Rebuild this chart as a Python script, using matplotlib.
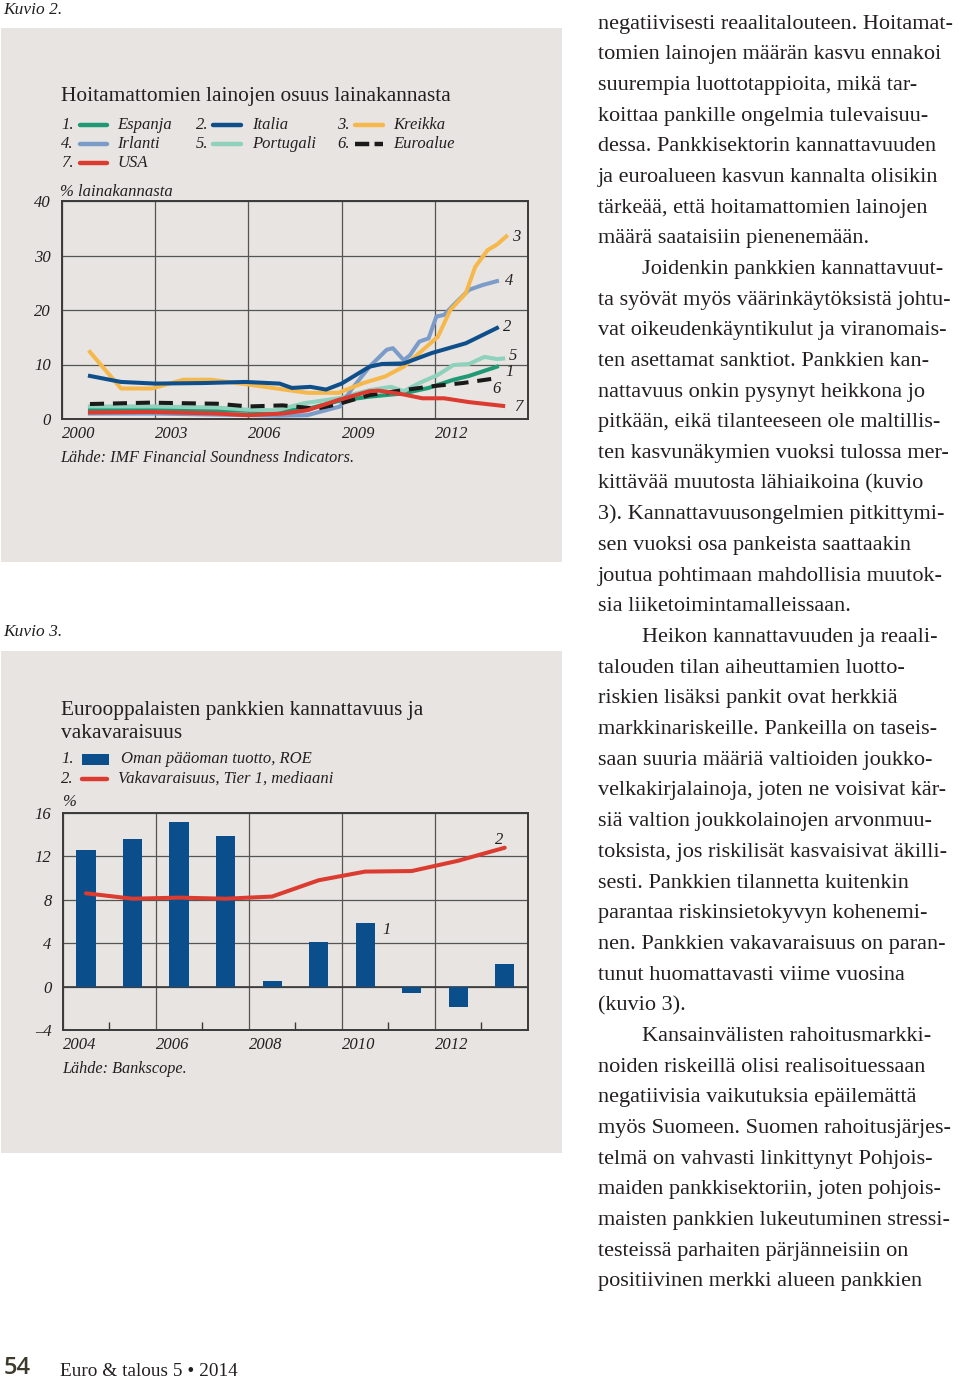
import matplotlib
matplotlib.use('Agg')
import matplotlib.pyplot as plt
from matplotlib.lines import Line2D
from matplotlib.patches import Rectangle

# ---------------- data: chart 1 (non-performing loans, % of loan stock) ----------------
spain_x = [2000.9, 2003.0, 2005.0, 2007.0, 2008.0, 2008.9, 2009.9, 2011.0, 2011.8, 2012.6, 2013.1, 2014.0]
spain_y = [1.8, 1.9, 1.6, 1.4, 2.0, 3.3, 4.1, 4.7, 5.7, 7.2, 7.9, 9.6]

italy_x = [2000.9, 2001.9, 2003.0, 2004.6, 2005.9, 2007.0, 2007.4, 2008.0, 2008.5, 2009.0, 2009.9,
           2010.3, 2011.0, 2011.9, 2013.0, 2014.0]
italy_y = [7.9, 6.8, 6.5, 6.6, 6.8, 6.5, 5.7, 5.9, 5.4, 6.5, 9.6, 10.1, 10.2, 12.1, 13.9, 16.7]

greece_x = [2000.9, 2001.9, 2002.9, 2003.9, 2004.8, 2005.9, 2006.9, 2007.9, 2008.9, 2009.7, 2010.4,
            2011.0, 2011.5, 2012.1, 2012.5, 2013.0, 2013.3, 2013.7, 2014.0, 2014.3]
greece_y = [12.3, 5.6, 5.6, 7.2, 7.2, 6.4, 5.6, 4.8, 4.8, 6.6, 7.8, 9.6, 12.1, 15.1, 20.0, 23.1,
            27.9, 31.0, 32.0, 33.5]

ireland_x = [2000.9, 2003.0, 2005.0, 2007.0, 2007.9, 2008.95, 2009.3, 2009.9, 2010.45, 2010.65, 2011.0,
             2011.2, 2011.5, 2011.8, 2012.05, 2012.3, 2012.6, 2013.1, 2013.55, 2014.0]
ireland_y = [1.0, 1.0, 0.8, 0.6, 0.7, 2.3, 5.3, 9.6, 12.7, 13.0, 10.8, 11.7, 14.2, 14.8, 18.8, 19.1,
             20.9, 23.7, 24.6, 25.3]

portugal_x = [2000.9, 2003.0, 2005.0, 2006.0, 2006.9, 2007.8, 2008.9, 2009.9, 2010.6, 2011.0, 2011.5,
              2012.1, 2012.6, 2013.1, 2013.6, 2014.0, 2014.2]
portugal_y = [2.3, 2.3, 2.1, 1.7, 1.6, 2.9, 3.8, 5.3, 5.9, 5.1, 6.6, 8.1, 9.9, 10.1, 11.4, 11.0, 11.1]

euro_x = [2000.9, 2002.8, 2005.0, 2006.0, 2007.1, 2008.2, 2008.9, 2009.9, 2011.0, 2011.9, 2012.9, 2014.0]
euro_y = [2.75, 3.0, 2.8, 2.3, 2.5, 1.9, 2.75, 4.4, 5.3, 6.0, 6.6, 7.5]

usa_x = [2000.9, 2002.8, 2005.0, 2006.0, 2007.1, 2007.9, 2008.9, 2009.9, 2010.2, 2011.0, 2011.6,
         2012.3, 2013.1, 2014.2]
usa_y = [1.2, 1.3, 1.0, 0.7, 1.0, 1.6, 3.5, 5.1, 5.2, 4.5, 3.8, 3.8, 3.1, 2.4]

c1_xticks = [2000, 2003, 2006, 2009, 2012, 2015]
c1_xlabels = ['2000', '2003', '2006', '2009', '2012', '']
c1_yticks = [0, 10, 20, 30, 40]
c1_ylabels = ['0', '10', '20', '30', '40']

# ---------------- data: chart 2 (European banks) ----------------
c2_years = [2004, 2005, 2006, 2007, 2008, 2009, 2010, 2011, 2012, 2013]
roe = [12.6, 13.6, 15.2, 13.9, 0.55, 4.15, 5.9, -0.6, -1.9, 2.1]
tier1 = [8.6, 8.1, 8.2, 8.1, 8.3, 9.8, 10.6, 10.65, 11.6, 12.8]
c2_xticks = [2004, 2006, 2008, 2010, 2012, 2014]
c2_xlabels = ['2004', '2006', '2008', '2010', '2012', '']
c2_yticks = [-4, 0, 4, 8, 12, 16]
c2_ylabels = ['\u20134', '0', '4', '8', '12', '16']

# ---------------- body text ----------------
body_lines = [
    (0, "negatiivisesti reaalitalouteen. Hoitamat-"),
    (0, "tomien lainojen määrän kasvu ennakoi"),
    (0, "suurempia luottotappioita, mikä tar-"),
    (0, "koittaa pankille ongelmia tulevaisuu-"),
    (0, "dessa. Pankkisektorin kannattavuuden"),
    (0, "ja euroalueen kasvun kannalta olisikin"),
    (0, "tärkeää, että hoitamattomien lainojen"),
    (0, "määrä saataisiin pienenemään."),
    (1, "Joidenkin pankkien kannattavuut-"),
    (0, "ta syövät myös väärinkäytöksistä johtu-"),
    (0, "vat oikeudenkäyntikulut ja viranomais-"),
    (0, "ten asettamat sanktiot. Pankkien kan-"),
    (0, "nattavuus onkin pysynyt heikkona jo"),
    (0, "pitkään, eikä tilanteeseen ole maltillis-"),
    (0, "ten kasvunäkymien vuoksi tulossa mer-"),
    (0, "kittävää muutosta lähiaikoina (kuvio"),
    (0, "3). Kannattavuusongelmien pitkittymi-"),
    (0, "sen vuoksi osa pankeista saattaakin"),
    (0, "joutua pohtimaan mahdollisia muutok-"),
    (0, "sia liiketoimintamalleissaan."),
    (1, "Heikon kannattavuuden ja reaali-"),
    (0, "talouden tilan aiheuttamien luotto-"),
    (0, "riskien lisäksi pankit ovat herkkiä"),
    (0, "markkinariskeille. Pankeilla on taseis-"),
    (0, "saan suuria määriä valtioiden joukko-"),
    (0, "velkakirjalainoja, joten ne voisivat kär-"),
    (0, "siä valtion joukkolainojen arvonmuu-"),
    (0, "toksista, jos riskilisät kasvaisivat äkilli-"),
    (0, "sesti. Pankkien tilannetta kuitenkin"),
    (0, "parantaa riskinsietokyvyn kohenemi-"),
    (0, "nen. Pankkien vakavaraisuus on paran-"),
    (0, "tunut huomattavasti viime vuosina"),
    (0, "(kuvio 3)."),
    (1, "Kansainvälisten rahoitusmarkki-"),
    (0, "noiden riskeillä olisi realisoituessaan"),
    (0, "negatiivisia vaikutuksia epäilemättä"),
    (0, "myös Suomeen. Suomen rahoitusjärjes-"),
    (0, "telmä on vahvasti linkittynyt Pohjois-"),
    (0, "maiden pankkisektoriin, joten pohjois-"),
    (0, "maisten pankkien lukeutuminen stressi-"),
    (0, "testeissä parhaiten pärjänneisiin on"),
    (0, "positiivinen merkki alueen pankkien"),
]

# ---------------- styling ----------------
W, H = 960, 1381
SERIF = 'Liberation Serif'
TXT = '#231f20'
PANEL = '#e7e4e1'
FRAME = '#3a3a3a'
GRID = '#555555'
C_SPAIN = '#1f9a74'
C_ITALY = '#0e4f8b'
C_GREECE = '#f6b84b'
C_IRELAND = '#7b9bc9'
C_PORTUGAL = '#8ed1bd'
C_EURO = '#1a1a1a'
C_USA = '#dc3b30'
C_BAR = '#0a4f8c'

plt.rcParams['font.family'] = [SERIF, 'DejaVu Serif']

fig = plt.figure(figsize=(W / 100, H / 100), dpi=100)
fig.patch.set_facecolor('white')


def fx(x):
    return x / W


def fy(y):
    return 1 - y / H


def rect(x0, y0, x1, y1):
    return [x0 / W, 1 - y1 / H, (x1 - x0) / W, (y1 - y0) / H]


def ftext(x, y, s, size, style='normal', weight='normal', color=TXT, ha='left', va='center', family=None):
    kw = {}
    if family is not None:
        kw['family'] = family
    return fig.text(fx(x), fy(y), s, fontsize=size, style=style, weight=weight, color=color,
                    ha=ha, va=va, **kw)


def fline(x0, x1, y, color, lw, ls='-'):
    fig.add_artist(Line2D([fx(x0), fx(x1)], [fy(y), fy(y)], transform=fig.transFigure,
                          color=color, lw=lw, ls=ls, solid_capstyle='round', dash_capstyle='butt',
                          zorder=3))


# panels (behind everything)
for (x0, y0, x1, y1) in [(1, 28, 562, 562), (1, 651, 562, 1153)]:
    fig.patches.append(Rectangle((fx(x0), fy(y1)), (x1 - x0) / W, (y1 - y0) / H,
                                 transform=fig.transFigure, facecolor=PANEL, edgecolor='none', zorder=-10))


def style_axes(ax):
    ax.set_zorder(2)
    ax.set_facecolor(PANEL)
    for sp in ax.spines.values():
        sp.set_color(FRAME)
        sp.set_linewidth(1.4)
    ax.grid(True, color=GRID, lw=0.9)
    ax.set_axisbelow(True)
    ax.tick_params(axis='both', which='major', length=0, labelsize=12, labelcolor=TXT)
    for lab in ax.get_xticklabels() + ax.get_yticklabels():
        lab.set_fontstyle('italic')
    for lab in ax.get_xticklabels():
        lab.set_ha('left')


# ================= Chart 1 =================
ftext(3, 10, 'Kuvio 2.', 12.5, style='italic')
ftext(61, 96, 'Hoitamattomien lainojen osuus lainakannasta', 15.4)

leg1 = [
    (61, 80, 107, 117, 125, '1.', C_SPAIN, '-', 'Espanja'),
    (196, 213, 241, 252, 125, '2.', C_ITALY, '-', 'Italia'),
    (337, 355, 383, 393, 125, '3.', C_GREECE, '-', 'Kreikka'),
    (61, 80, 107, 117, 144, '4.', C_IRELAND, '-', 'Irlanti'),
    (196, 213, 241, 252, 144, '5.', C_PORTUGAL, '-', 'Portugali'),
    (337, 355, 383, 393, 144, '6.', C_EURO, (0, (3.2, 1.2)), 'Euroalue'),
    (61, 80, 107, 117, 163, '7.', C_USA, '-', 'USA'),
]
for (xn, xl0, xl1, xt, y, num, col, ls, lab) in leg1:
    ftext(xn, y, num, 12, style='italic')
    fline(xl0, xl1, y, col, 3.2, ls)
    ftext(xt, y, lab, 12, style='italic')

ftext(60, 192, '% lainakannasta', 12, style='italic')

ax1 = fig.add_axes(rect(62, 201, 528, 419))
ax1.set_xlim(2000, 2015)
ax1.set_ylim(0, 40)
ax1.set_xticks(c1_xticks, c1_xlabels)
ax1.set_yticks(c1_yticks, c1_ylabels)
style_axes(ax1)
ax1.tick_params(axis='x', pad=5)
ax1.tick_params(axis='y', pad=8)

lw1 = 2.9
ax1.plot(spain_x, spain_y, color=C_SPAIN, lw=lw1, solid_joinstyle='round', zorder=3)
ax1.plot(portugal_x, portugal_y, color=C_PORTUGAL, lw=lw1, solid_joinstyle='round', zorder=3)
ax1.plot(ireland_x, ireland_y, color=C_IRELAND, lw=lw1, solid_joinstyle='round', zorder=3)
ax1.plot(greece_x, greece_y, color=C_GREECE, lw=lw1, solid_joinstyle='round', zorder=3)
ax1.plot(italy_x, italy_y, color=C_ITALY, lw=lw1, solid_joinstyle='round', zorder=3)
ax1.plot(euro_x, euro_y, color=C_EURO, lw=lw1, ls=(0, (3.5, 2.2)), dash_capstyle='butt', zorder=3)
ax1.plot(usa_x, usa_y, color=C_USA, lw=lw1, solid_joinstyle='round', zorder=4)

for s, xx, yy in [('3', 2014.48, 33.4), ('4', 2014.26, 25.3), ('2', 2014.2, 16.9), ('5', 2014.39, 11.6),
                  ('1', 2014.26, 8.6), ('6', 2013.84, 5.5), ('7', 2014.55, 2.2)]:
    ax1.text(xx, yy, s, fontsize=12, style='italic', color=TXT, ha='left', va='center')

ftext(60, 458, 'Lähde: IMF Financial Soundness Indicators.', 11.7, style='italic')

# ================= Chart 2 =================
ftext(3, 632, 'Kuvio 3.', 12.5, style='italic')
ftext(61, 710, 'Eurooppalaisten pankkien kannattavuus ja', 15.4)
ftext(61, 733, 'vakavaraisuus', 15.4)

ftext(61, 759, '1.', 12, style='italic')
fig.patches.append(Rectangle((fx(82), fy(765)), 27 / W, 11 / H, transform=fig.transFigure,
                             facecolor=C_BAR, edgecolor='none', zorder=3))
ftext(121, 759, 'Oman pääoman tuotto, ROE', 12, style='italic')
ftext(61, 779, '2.', 12, style='italic')
fline(82, 107, 779, C_USA, 3.2)
ftext(118, 779, 'Vakavaraisuus, Tier 1, mediaani', 12, style='italic')
ftext(62, 802, '%', 12, style='italic')

ax2 = fig.add_axes(rect(62.7, 813, 528, 1030))
ax2.set_xlim(2004, 2014)
ax2.set_ylim(-4, 16)
ax2.set_xticks(c2_xticks, c2_xlabels)
ax2.set_yticks(c2_yticks, c2_ylabels)
ax2.set_xticks([2005, 2007, 2009, 2011, 2013], minor=True)
style_axes(ax2)
ax2.tick_params(axis='x', which='minor', direction='in', length=6, width=1.0, color=FRAME)
ax2.tick_params(axis='x', pad=5)
ax2.tick_params(axis='y', pad=8)
ax2.axhline(0, color=FRAME, lw=1.2, zorder=1)

centers = [y + 0.5 for y in c2_years]
ax2.bar(centers, roe, width=0.41, color=C_BAR, zorder=2)
ax2.plot(centers, tier1, color=C_USA, lw=2.9, solid_joinstyle='round', solid_capstyle='round', zorder=3)
ax2.text(2010.87, 5.2, '1', fontsize=12, style='italic', color=TXT, ha='left', va='center')
ax2.text(2013.3, 13.5, '2', fontsize=12, style='italic', color=TXT, ha='left', va='center')

ftext(62, 1069, 'Lähde: Bankscope.', 11.7, style='italic')

# ================= Body text =================
BODY_SIZE = 16.0
base0 = 28.5
step = 30.68
for i, (indent, line) in enumerate(body_lines):
    x = 598 + (44 if indent else 0)
    ftext(x, base0 + i * step, line, BODY_SIZE, va='baseline')

# ================= Footer =================
ftext(4, 1368, '54', 17, weight='semibold', color='#3d3a2c', family=['Open Sans', 'DejaVu Sans'])
ftext(60, 1376, 'Euro & talous 5 \u2022 2014', 13.9, va='baseline')

fig.savefig('out.png', dpi=100, facecolor='white')
